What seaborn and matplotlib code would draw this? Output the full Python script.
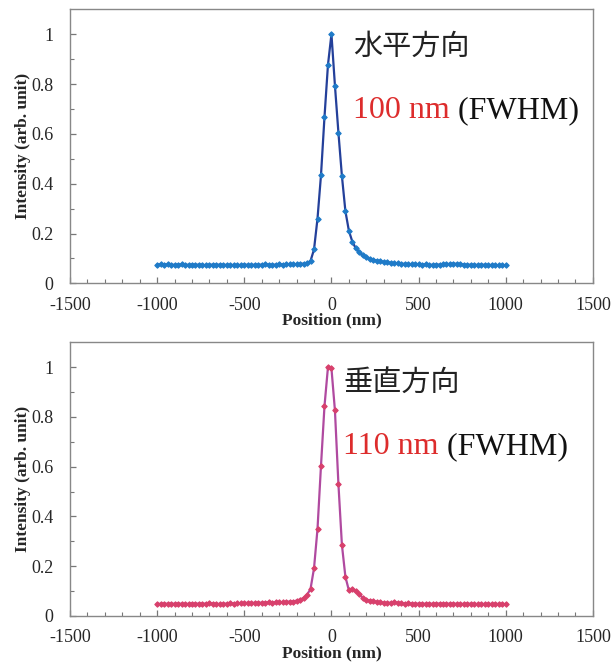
import numpy as np
import pandas as pd
import matplotlib
matplotlib.use("Agg")
import matplotlib.pyplot as plt
import seaborn as sns

# sampling positions (nm), one point every 20 nm
position = np.arange(-1000, 1001, 20)

horizontal = [
    0.075, 0.076, 0.075, 0.076, 0.075, 0.074, 0.075, 0.076, 0.075, 0.074,
    0.075, 0.074, 0.075, 0.074, 0.073, 0.074, 0.075, 0.074, 0.075, 0.074,
    0.074, 0.073, 0.074, 0.073, 0.074, 0.075, 0.074, 0.073, 0.075, 0.074,
    0.075, 0.076, 0.075, 0.074, 0.075, 0.076, 0.075, 0.076, 0.077, 0.076,
    0.077, 0.078, 0.079, 0.080, 0.090, 0.136, 0.260, 0.434, 0.667, 0.877,
    1.000,
    0.794, 0.605, 0.431, 0.290, 0.211, 0.167, 0.140, 0.124, 0.112, 0.104,
    0.098, 0.094, 0.091, 0.088, 0.086, 0.084, 0.082, 0.081, 0.080, 0.079,
    0.078, 0.077, 0.077, 0.076, 0.076, 0.075, 0.076, 0.075, 0.074, 0.075,
    0.075, 0.076, 0.077, 0.078, 0.079, 0.078, 0.077, 0.075, 0.074, 0.075,
    0.074, 0.074, 0.075, 0.074, 0.073, 0.074, 0.073, 0.072, 0.073, 0.072,
]

vertical = [
    0.048, 0.049, 0.050, 0.049, 0.050, 0.049, 0.050, 0.049, 0.048, 0.049,
    0.050, 0.049, 0.050, 0.049, 0.050, 0.051, 0.050, 0.049, 0.048, 0.049,
    0.050, 0.051, 0.050, 0.052, 0.051, 0.052, 0.053, 0.052, 0.053, 0.054,
    0.053, 0.054, 0.055, 0.054, 0.055, 0.056, 0.055, 0.057, 0.058, 0.058,
    0.062, 0.066, 0.072, 0.085, 0.109, 0.192, 0.350, 0.604, 0.843, 1.000,
    0.995,
    0.826, 0.530, 0.286, 0.158, 0.103, 0.107, 0.100, 0.088, 0.072, 0.066,
    0.062, 0.059, 0.057, 0.055, 0.053, 0.052, 0.054, 0.055, 0.053, 0.051,
    0.050, 0.051, 0.050, 0.049, 0.050, 0.050, 0.049, 0.050, 0.049, 0.050,
    0.050, 0.049, 0.050, 0.049, 0.050, 0.049, 0.048, 0.049, 0.050, 0.049,
    0.049, 0.048, 0.049, 0.048, 0.049, 0.048, 0.049, 0.048, 0.048, 0.048,
]

panels = [
    ("水平方向", "100 nm", horizontal, "#24409a", "#1f7bc8"),
    ("垂直方向", "110 nm", vertical, "#b04aa0", "#d8406c"),
]

sns.set_style("ticks")
plt.rcParams['font.family'] = ['Liberation Serif', 'Noto Sans CJK JP']
plt.rcParams['axes.unicode_minus'] = False

fig = plt.figure(figsize=(6.13, 6.64), dpi=100)
axes = [fig.add_axes([0.1142, 0.5733, 0.853, 0.4127]),
        fig.add_axes([0.1142, 0.0723, 0.853, 0.4122])]
text_pos = [(0.542, 0.864, 0.602), (0.523, 0.853, 0.592)]

for ax, (title, fwhm, values, line_c, mark_c), (tx, ty1, ty2) in zip(axes, panels, text_pos):
    df = pd.DataFrame({'Position': position, 'Intensity': values})
    sns.lineplot(data=df, x='Position', y='Intensity', ax=ax, color=line_c,
                 linewidth=1.6, marker='D', markersize=2.8,
                 markerfacecolor=mark_c, markeredgecolor=mark_c)
    ax.set_xlim(-1500, 1500)
    ax.set_ylim(0, 1.1)
    ax.set_xticks([-1500, -1000, -500, 0, 500, 1000, 1500])
    ax.set_xticks(np.arange(-1500, 1501, 100), minor=True)
    ax.set_yticks([0, 0.2, 0.4, 0.6, 0.8, 1.0])
    ax.set_yticklabels(['0', '0.2', '0.4', '0.6', '0.8', '1'])
    ax.set_yticks(np.arange(0, 1.05, 0.1), minor=True)
    ax.tick_params(which='both', direction='in', color='#777777', labelsize=13,
                   top=False, right=False)
    ax.tick_params(which='major', length=4.5, width=0.9)
    ax.tick_params(axis='x', which='major', pad=9.5)
    ax.tick_params(axis='y', which='major', pad=12)
    ax.tick_params(which='minor', length=3, width=0.8)
    for sp in ax.spines.values():
        sp.set_color('#888888')
        sp.set_linewidth(1.0)
    ax.set_xlabel('Position (nm)', fontsize=12.5, fontweight='bold', labelpad=-0.5)
    ax.set_ylabel('Intensity (arb. unit)', fontsize=12.5, fontweight='bold', labelpad=0)

    ax.text(tx, ty1, title, transform=ax.transAxes, fontsize=21,
            family=['Noto Sans CJK JP'], va='center', ha='left', color='#222222')
    t = ax.text(tx, ty2, fwhm, transform=ax.transAxes, fontsize=23,
                va='baseline', ha='left', color='#dd2c2c')
    ax.annotate(' (FWHM)', xy=(1, 0), xycoords=t, fontsize=23,
                va='bottom', ha='left', color='#111111')

fig.savefig('out.png', dpi=100)
